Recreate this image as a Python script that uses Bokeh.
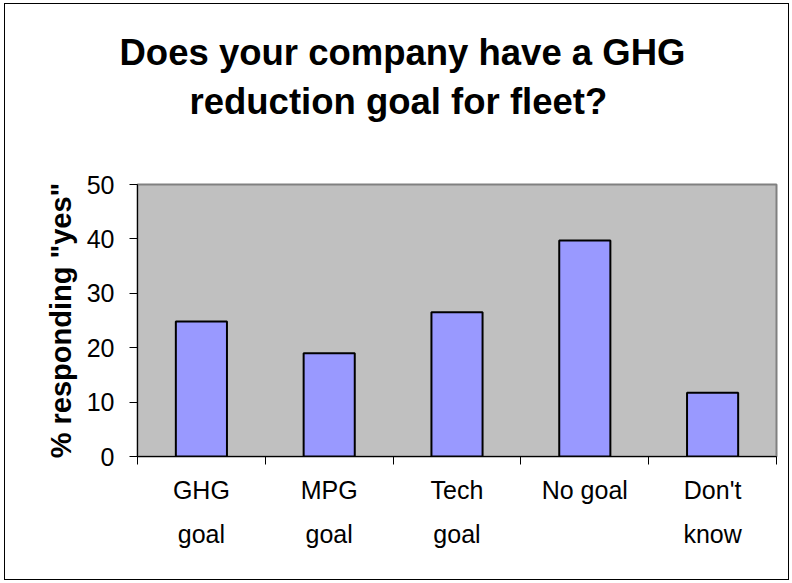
from bokeh.plotting import figure
from bokeh.models import Range1d, FixedTicker, Title, LinearAxis
from bokeh.embed import file_html
from bokeh.resources import INLINE

categories = ["GHG\ngoal", "MPG\ngoal", "Tech\ngoal", "No goal", "Don't\nknow"]
values = [24.8, 19.0, 26.5, 39.7, 11.7]
y_ticks = [0, 10, 20, 30, 40, 50]
title_lines = ["Does your company have a GHG", "reduction goal for fleet?"]
y_label = '% responding "yes"'

n = len(categories)
xs = [i + 0.5 for i in range(n)]

p = figure(width=785, height=577, output_backend="svg", toolbar_location=None,
           title=None,
           x_range=Range1d(0, n), y_range=Range1d(0, 50),
           min_border_left=132, min_border_right=14, min_border_top=180, min_border_bottom=125,
           x_axis_type=None, y_axis_type=None)
p.styles = {"border": "1px solid #000000", "margin-left": "4px", "margin-top": "3px"}
p.background_fill_color = "#C0C0C0"
p.border_fill_color = "white"
p.outline_line_color = "#808080"
p.outline_line_width = 2

p.vbar(x=xs, top=values, width=0.4, bottom=0, fill_color="#9999FF",
       line_color="black", line_width=2)

# x axis: labels at centers, small ticks at category boundaries
xaxis = LinearAxis(ticker=FixedTicker(ticks=xs, minor_ticks=list(range(n + 1))))
xaxis.major_label_overrides = {x: c for x, c in zip(xs, categories)}
xaxis.major_tick_out = 0
xaxis.major_tick_in = 0
xaxis.minor_tick_out = 8
xaxis.minor_tick_in = 0
xaxis.minor_tick_line_color = "black"
xaxis.axis_line_color = "black"
xaxis.axis_line_width = 1
xaxis.major_label_text_font = "Liberation Sans"
xaxis.major_label_text_font_size = "25px"
xaxis.major_label_text_color = "black"
xaxis.major_label_text_line_height = 1.6
xaxis.major_label_standoff = 11
p.add_layout(xaxis, "below")

yaxis = LinearAxis(ticker=FixedTicker(ticks=y_ticks, minor_ticks=[]))
yaxis.major_tick_out = 8
yaxis.major_tick_in = 0
yaxis.major_tick_line_color = "black"
yaxis.axis_line_color = "black"
yaxis.major_label_text_font = "Liberation Sans"
yaxis.major_label_text_font_size = "25px"
yaxis.major_label_text_color = "black"
yaxis.major_label_standoff = 15
yaxis.axis_label = y_label
yaxis.axis_label_text_font = "Liberation Sans"
yaxis.axis_label_text_font_style = "bold"
yaxis.axis_label_text_font_size = "29px"
yaxis.axis_label_text_color = "black"
yaxis.axis_label_standoff = 7
p.add_layout(yaxis, "left")

p.xgrid.visible = False
p.ygrid.ticker = FixedTicker(ticks=y_ticks[1:-1])
p.ygrid.grid_line_color = "#303030"
p.ygrid.grid_line_width = 1

# closest to frame first
for line, standoff, off in zip(reversed(title_lines), [125, -113], [52, -18]):
    p.add_layout(Title(text=line, align="left", offset=off, standoff=standoff,
                       text_font="Liberation Sans", text_font_style="bold",
                       text_font_size="36.5px", text_color="black"), "above")

open("out.html", "w").write(file_html(p, INLINE))
